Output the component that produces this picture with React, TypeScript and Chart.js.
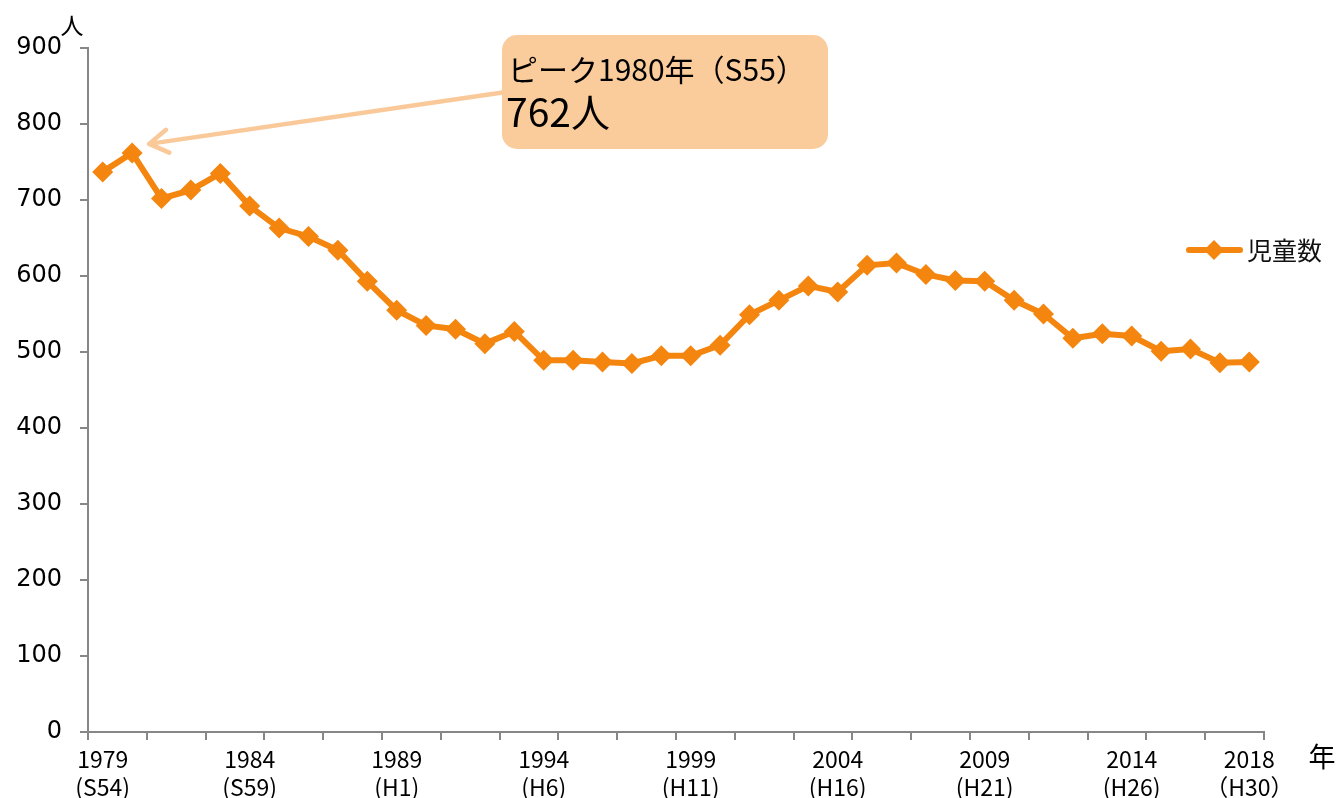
import React, { useEffect, useRef } from "react";
import { Chart, registerables } from "chart.js";

Chart.register(...registerables);

const years = [
  "1979", "1980", "1981", "1982", "1983", "1984", "1985", "1986", "1987", "1988",
  "1989", "1990", "1991", "1992", "1993", "1994", "1995", "1996", "1997", "1998",
  "1999", "2000", "2001", "2002", "2003", "2004", "2005", "2006", "2007", "2008",
  "2009", "2010", "2011", "2012", "2013", "2014", "2015", "2016", "2017", "2018",
];

const children = [
  737, 762, 702, 713, 735, 692, 663, 652, 634, 593,
  555, 535, 530, 511, 527, 489, 489, 487, 485, 495,
  495, 509, 549, 568, 587, 579, 614, 617, 602, 594,
  593, 568, 550, 518, 524, 521, 501, 504, 486, 487,
];

const yearTicks = ["1979", "1984", "1989", "1994", "1999", "2004", "2009", "2014", "2018"];
const eraTicks = ["(S54)", "(S59)", "(H1)", "(H6)", "(H11)", "(H16)", "(H21)", "(H26)", "（H30）"];

const seriesName = "児童数";
const peakYear = "1980";
const peakTitle = "ピーク1980年（S55）";
const yUnit = "人";
const xUnit = "年";

const ORANGE = "#F4850E";
const AXIS = "#878787";
const ARROW = "#FAC99A";
const BOX = "#FACB9B";
const CJK = '"Noto Sans CJK JP", sans-serif';

const overlay = {
  id: "overlay",
  afterDatasetsDraw(chart: any) {
    const { ctx, scales } = chart;
    const xs = scales.x;
    const ys = scales.y;
    const i = years.indexOf(peakYear);
    const px = xs.getPixelForValue(i);
    const py = ys.getPixelForValue(children[i]);
    const tipX = px + 17;
    const tipY = py - 9;
    const sx = 506;
    const sy = 92;
    ctx.save();
    // arrow
    ctx.strokeStyle = ARROW;
    ctx.lineWidth = 4.5;
    ctx.lineCap = "round";
    ctx.lineJoin = "round";
    ctx.beginPath();
    ctx.moveTo(sx, sy);
    ctx.lineTo(tipX, tipY);
    const ang = Math.atan2(sy - tipY, sx - tipX);
    const wl = 22;
    ctx.moveTo(tipX + wl * Math.cos(ang - 0.55), tipY + wl * Math.sin(ang - 0.55));
    ctx.lineTo(tipX, tipY);
    ctx.lineTo(tipX + wl * Math.cos(ang + 0.55), tipY + wl * Math.sin(ang + 0.55));
    ctx.stroke();
    // box
    ctx.fillStyle = BOX;
    ctx.beginPath();
    ctx.roundRect(502, 35, 326, 114, 15);
    ctx.fill();
    ctx.fillStyle = "#000";
    ctx.textAlign = "left";
    ctx.textBaseline = "alphabetic";
    ctx.font = `30px ${CJK}`;
    ctx.fillText(peakTitle, 508, 81);
    ctx.font = `39px ${CJK}`;
    ctx.fillText(`${children[i]}${yUnit}`, 506, 127);
    // units
    ctx.textAlign = "center";
    ctx.textBaseline = "middle";
    ctx.font = `23px ${CJK}`;
    ctx.fillText(yUnit, 72, 25);
    ctx.font = `27px ${CJK}`;
    ctx.fillText(xUnit, 1322, 757);
    // legend
    const ly = 250;
    ctx.strokeStyle = ORANGE;
    ctx.lineWidth = 6;
    ctx.lineCap = "round";
    ctx.beginPath();
    ctx.moveTo(1189, ly);
    ctx.lineTo(1240, ly);
    ctx.stroke();
    ctx.fillStyle = ORANGE;
    ctx.beginPath();
    const r = 10;
    ctx.moveTo(1214, ly - r);
    ctx.lineTo(1214 + r, ly);
    ctx.lineTo(1214, ly + r);
    ctx.lineTo(1214 - r, ly);
    ctx.closePath();
    ctx.fill();
    ctx.fillStyle = "#111";
    ctx.textAlign = "left";
    ctx.font = `25px ${CJK}`;
    ctx.fillText(seriesName, 1247, ly);
    ctx.restore();
  },
};

export default function App() {
  const ref = useRef<HTMLCanvasElement | null>(null);

  useEffect(() => {
    if (!ref.current) return;
    const chart = new Chart(ref.current, {
      type: "line",
      data: {
        labels: years,
        datasets: [
          {
            label: seriesName,
            data: children,
            borderColor: ORANGE,
            backgroundColor: ORANGE,
            borderWidth: 6,
            pointStyle: "rectRot",
            pointRadius: 10.5,
            pointBorderWidth: 0,
            pointBackgroundColor: ORANGE,
            pointBorderColor: ORANGE,
            tension: 0,
          },
        ],
      },
      options: {
        responsive: false,
        animation: false,
        layout: { padding: { top: 48, right: 75, left: 0, bottom: 0 } },
        plugins: { legend: { display: false }, tooltip: { enabled: false } },
        scales: {
          x: {
            offset: true,
            grid: {
              offset: true,
              drawOnChartArea: false,
              drawTicks: true,
              tickLength: 8,
              lineWidth: 2,
              color: (c: any) =>
                c.index === undefined || c.index % 2 === 0 ? AXIS : "rgba(0,0,0,0)",
            },
            border: { color: AXIS, width: 2 },
            ticks: {
              autoSkip: false,
              maxRotation: 0,
              minRotation: 0,
              padding: 5,
              color: "#000",
              font: { family: CJK, size: 23, lineHeight: "28px" },
              callback: (_v: any, idx: number) => {
                const k = yearTicks.indexOf(years[idx]);
                return k >= 0 ? [yearTicks[k], eraTicks[k]] : "";
              },
            },
            afterFit: (s: any) => {
              s.height = 66;
            },
          },
          y: {
            min: 0,
            max: 900,
            ticks: {
              stepSize: 100,
              padding: 18,
              color: "#000",
              font: { family: '"DejaVu Sans", sans-serif', size: 24 },
            },
            grid: {
              drawOnChartArea: false,
              drawTicks: true,
              tickLength: 8,
              lineWidth: 2,
              color: AXIS,
            },
            border: { color: AXIS, width: 2 },
            afterFit: (s: any) => {
              s.width = 88;
            },
          },
        },
      },
      plugins: [overlay],
    });
    return () => chart.destroy();
  }, []);

  return (
    <canvas
      ref={ref}
      width={1339}
      height={798}
      style={{ position: "absolute", left: 0, top: 0, width: 1339, height: 798 }}
    />
  );
}
